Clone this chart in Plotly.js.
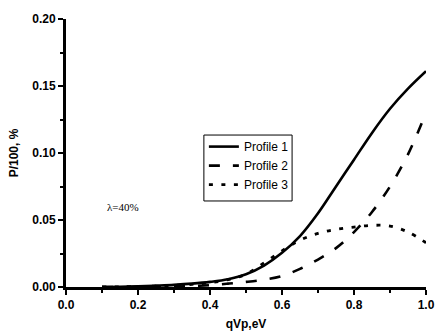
<!DOCTYPE html>
<html>
<head>
<meta charset="utf-8">
<script src="https://cdn.plot.ly/plotly-3.0.1.min.js"></script>
<style>html,body{margin:0;padding:0;background:#fff;}#chart{width:436px;height:334px;}</style>
</head>
<body>
<div id="chart"></div>
<script>
const qVp = [0.1, 0.15, 0.2, 0.25, 0.3, 0.35, 0.4, 0.45, 0.5, 0.55, 0.6, 0.65, 0.7, 0.75, 0.8, 0.85, 0.9, 0.95, 1.0];
const profile1 = [0.0, 0.0002, 0.0005, 0.001, 0.0016, 0.0025, 0.0038, 0.0058, 0.0095, 0.016, 0.0255, 0.038, 0.055, 0.075, 0.095, 0.115, 0.133, 0.148, 0.161];
const profile2 = [0.0, 0.0, 0.0001, 0.0002, 0.0003, 0.0007, 0.0014, 0.0025, 0.0038, 0.0055, 0.0082, 0.0135, 0.0205, 0.029, 0.041, 0.056, 0.075, 0.099, 0.130];
const profile3 = [0.0, 0.0001, 0.0004, 0.0007, 0.0012, 0.002, 0.0032, 0.0055, 0.0095, 0.018, 0.027, 0.035, 0.040, 0.043, 0.0447, 0.046, 0.0455, 0.041, 0.033];
const seriesNames = ["Profile 1", "Profile 2", "Profile 3"];
const xTicks = [0.0, 0.2, 0.4, 0.6, 0.8, 1.0];
const yTicks = [0.00, 0.05, 0.10, 0.15, 0.20];
const noteText = "λ=40%";

const FONT = "Arial, Liberation Sans, sans-serif";

const traces = [
  {x: qVp, y: profile1, name: seriesNames[0], mode: "lines", line: {color: "#000", width: 2.6, shape: "spline", smoothing: 1}},
  {x: qVp, y: profile2, name: seriesNames[1], mode: "lines", line: {color: "#000", width: 2.6, dash: "11px,13px", shape: "spline", smoothing: 1}},
  {x: qVp, y: profile3, name: seriesNames[2], mode: "lines", line: {color: "#000", width: 2.8, dash: "4px,8.5px", shape: "spline", smoothing: 1}}
];

const axisCommon = {
  showgrid: false, zeroline: false, showline: true, linecolor: "#000", linewidth: 3,
  ticks: "outside", ticklen: 5, tickwidth: 2, tickcolor: "#000",
  tickfont: {family: FONT, size: 12, color: "#000", weight: 700},
  mirror: false
};

const layout = {
  width: 436, height: 334,
  margin: {l: 66, r: 10, t: 19, b: 47},
  paper_bgcolor: "#fff", plot_bgcolor: "#fff",
  showlegend: true,
  legend: {x: 0.383, y: 0.578, xanchor: "left", yanchor: "top", bgcolor: "rgba(0,0,0,0)",
    borderwidth: 0, font: {family: FONT, size: 12, color: "#000"},
    itemwidth: 30, tracegroupgap: 0},
  xaxis: Object.assign({}, axisCommon, {
    range: [0, 1.0], tickvals: xTicks, ticktext: xTicks.map(v => "<b>" + v.toFixed(1) + "</b>"),
    minor: {tickvals: [0.1, 0.3, 0.5, 0.7, 0.9], ticklen: 3, tickwidth: 2, tickcolor: "#000", ticks: "outside"},
    title: {text: "<b>qVp,eV</b>", font: {family: FONT, size: 12, color: "#000", weight: 700}, standoff: 9}
  }),
  yaxis: Object.assign({}, axisCommon, {
    range: [0, 0.20], tickvals: yTicks, ticktext: yTicks.map(v => "<b>" + v.toFixed(2) + "</b>"),
    minor: {tickvals: [0.025, 0.075, 0.125, 0.175], ticklen: 3, tickwidth: 2, tickcolor: "#000", ticks: "outside"},
    title: {text: "<b>P/100, %</b>", font: {family: FONT, size: 12, color: "#000", weight: 700}, standoff: 12}
  }),
  shapes: [
    {type: "rect", xref: "paper", yref: "paper", x0: 0.383, x1: 0.628, y0: 0.321, y1: 0.567, line: {color: "#000", width: 1}}
  ],
  annotations: [
    {x: 0.158, y: 0.06, xref: "x", yref: "y", text: noteText, showarrow: false,
     font: {family: "Liberation Serif, Times New Roman, serif", size: 11, color: "#000"}}
  ]
};

Plotly.newPlot("chart", traces, layout, {displayModeBar: false, staticPlot: true});
</script>
</body>
</html>
